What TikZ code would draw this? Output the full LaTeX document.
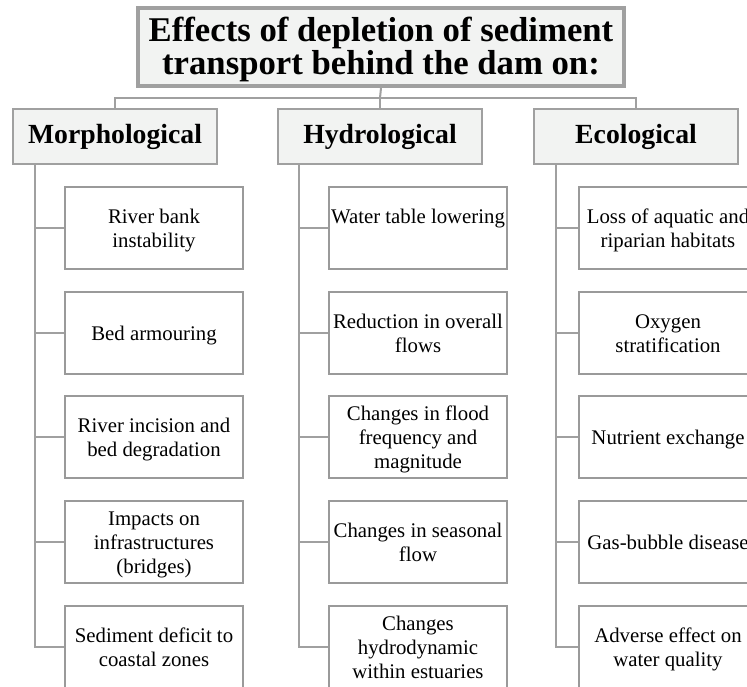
\documentclass[tikz,border=0pt]{standalone}
\usepackage{fontspec}
\setmainfont{Liberation Serif}
\definecolor{boxfill}{HTML}{F2F3F2}
\definecolor{edge}{HTML}{A0A0A0}
\definecolor{itemedge}{HTML}{9A9A9A}
\newcommand\stk[2]{\raisebox{#1}[\height][\depth]{\begin{tabular}{@{}c@{}}#2\end{tabular}}}
\begin{document}
\begin{tikzpicture}[x=1pt,y=-1pt,
  titlebox/.style={draw=edge,line width=4pt,fill=boxfill,minimum width=486,minimum height=78,inner sep=0pt,align=center,font=\fontsize{34.7}{30}\selectfont\bfseries},
  headbox/.style={draw=edge,line width=1.5pt,fill=boxfill,minimum width=204,minimum height=55,inner sep=0pt,align=center,font=\fontsize{27.7}{30}\selectfont\bfseries},
  itembox/.style={draw=itemedge,line width=1.5pt,fill=white,minimum width=178,minimum height=82,inner sep=0pt,align=center,font=\fontsize{20.8}{24}\selectfont},
  link/.style={draw=edge,line width=2pt}]
\useasboundingbox (0,0) rectangle (747,686);
\clip (0,0) rectangle (747,686);
\fill[white] (0,0) rectangle (747,686);

\node[titlebox] (title) at (381,47) {\stk{-3.5pt}{Effects of depletion of sediment\\transport behind the dam on:}};

\node[headbox] (morph) at (115,136.5) {Morphological};
\node[headbox] (hyd) at (380,136.5) {Hydrological};
\node[headbox] (eco) at (636,136.5) {Ecological};

\coordinate (bus) at (380,98);
\draw[link] (morph.north) |- (bus) -| (eco.north);
\draw[link] (bus) -- (hyd.north);
\draw[link] (title.south) -- (bus);

% Morphological items
\node[itembox] (m1) at (154,228) {\stk{-2.7pt}{River bank\\instability}};
\node[itembox] (m2) at (154,333) {\stk{-2.7pt}{Bed armouring}};
\node[itembox] (m3) at (154,437) {\stk{-2.7pt}{River incision and\\bed degradation}};
\node[itembox] (m4) at (154,542) {\stk{-2.7pt}{Impacts on\\infrastructures\\(bridges)}};
\node[itembox] (m5) at (154,647) {\stk{-2.7pt}{Sediment deficit to\\coastal zones}};

% Hydrological items
\node[itembox] (h1) at (418,228) {\stk{-2.7pt}{Water table lowering\\\mbox{}}};
\node[itembox] (h2) at (418,333) {\stk{-2.7pt}{Reduction in overall\\flows}};
\node[itembox] (h3) at (418,437) {\stk{-2.7pt}{Changes in flood\\frequency and\\magnitude}};
\node[itembox] (h4) at (418,542) {\stk{-2.7pt}{Changes in seasonal\\flow}};
\node[itembox] (h5) at (418,647) {\stk{-2.7pt}{Changes\\hydrodynamic\\within estuaries}};

% Ecological items
\node[itembox] (e1) at (668,228) {\stk{-2.7pt}{Loss of aquatic and\\riparian habitats}};
\node[itembox] (e2) at (668,333) {\stk{-2.7pt}{Oxygen\\stratification}};
\node[itembox] (e3) at (668,437) {\stk{-2.7pt}{Nutrient exchange}};
\node[itembox] (e4) at (668,542) {\stk{-2.7pt}{Gas-bubble disease}};
\node[itembox] (e5) at (668,647) {\stk{-2.7pt}{Adverse effect on\\water quality}};

% spines
\coordinate (ms) at (35,164);
\coordinate (hs) at (299,164);
\coordinate (es) at (556,164);
\draw[link] (ms) |- (m5.west);
\draw[link] (hs) |- (h5.west);
\draw[link] (es) |- (e5.west);
\foreach \i in {1,2,3,4}{
  \draw[link] (m\i.west) -- (m\i.west -| ms);
  \draw[link] (h\i.west) -- (h\i.west -| hs);
  \draw[link] (e\i.west) -- (e\i.west -| es);
}
\end{tikzpicture}
\end{document}
